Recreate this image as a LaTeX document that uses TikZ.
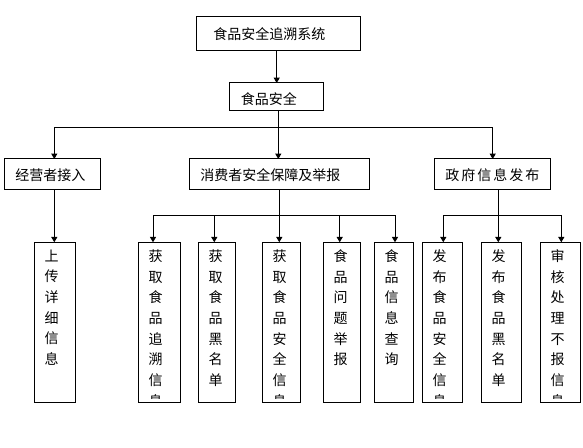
\documentclass[tikz,border=0pt]{standalone}
\usepackage{fontspec}
\newfontfamily\cjk{Noto Sans CJK SC}
\usetikzlibrary{arrows.meta,fit}
\newcommand\mkcol[4]{%
  \node[box,fit={(#2,242.3)(#3,403)}] (#1) {};
  \begin{scope}
    \clip (#2,242.3) rectangle (#3,398.5);
    \node[vlbl] (#1t) at (#2+17.3,249.5) {#4};
  \end{scope}}
\begin{document}
\begin{tikzpicture}[x=0.75pt,y=-0.75pt,
  box/.style={draw,line width=0.75pt,inner sep=0,outer sep=0},
  lbl/.style={font=\cjk\fontsize{10.5pt}{15.5pt}\selectfont,inner sep=0,anchor=west},
  vlbl/.style={font=\cjk\fontsize{10.5pt}{15.5pt}\selectfont,inner sep=0,anchor=north,align=center},
  ln/.style={line width=0.75pt},
  arr/.style={line width=0.75pt,-{Triangle[width=4.5pt,length=4pt]}}]
\useasboundingbox (0,0) rectangle (583,448);
% upper boxes
\node[box,fit={(196,17)(360.7,51)}] (sys) {};
\node[lbl] (syst) at (213,34) {食品安全追溯系统};
\node[box,fit={(229,83)(323.7,111)}] (fs) {};
\node[lbl] (fst) at (240.7,99) {食品安全};
\node[box,fit={(4.3,159)(100.7,190)}] (jy) {};
\node[lbl] (jyt) at (15,175) {经营者接入};
\node[box,fit={(189,159)(369,190)}] (xf) {};
\node[lbl] (xft) at (200,175) {消费者安全保障及举报};
\node[box,fit={(434,159)(550.7,190)}] (zf) {};
\node[lbl] (zft) at (445,175) {政\kern1.5pt 府\kern1.5pt 信\kern1.5pt 息\kern1.5pt 发\kern1.5pt 布};
% lower boxes
\mkcol{b1}{34.3}{75.7}{上\\传\\详\\细\\信\\息}
\mkcol{b2}{138.3}{180.3}{获\\取\\食\\品\\追\\溯\\信\\息}
\mkcol{b3}{198.3}{235.3}{获\\取\\食\\品\\黑\\名\\单}
\mkcol{b4}{262.3}{300.3}{获\\取\\食\\品\\安\\全\\信\\息}
\mkcol{b5}{323.3}{360.3}{食\\品\\问\\题\\举\\报}
\mkcol{b6}{374.3}{413.3}{食\\品\\信\\息\\查\\询}
\mkcol{b7}{422.3}{462.3}{发\\布\\食\\品\\安\\全\\信\\息}
\mkcol{b8}{481.3}{521.3}{发\\布\\食\\品\\黑\\名\\单}
\mkcol{b9}{540.3}{580.3}{审\\核\\处\\理\\不\\报\\信\\息}
% connectors
\draw[arr] (276.7,0 |- sys.south) -- (276.7,0 |- fs.north);
\coordinate (bus) at (278.3,128);
\coordinate (busL) at (54.3,128);
\coordinate (busR) at (492.7,128);
\draw[ln] (fs.south -| bus) -- (bus);
\draw[ln] (busL) -- (busR);
\draw[arr] (busL) -- (busL |- jy.north);
\draw[arr] (bus) -- (bus |- xf.north);
\draw[arr] (busR) -- (busR |- zf.north);
\draw[arr] (busL |- jy.south) -- (busL |- b1.north);
% consumer branch
\coordinate (m) at (279.3,215.3);
\coordinate (c2) at (153,215.3);
\coordinate (c3) at (214.3,215.3);
\coordinate (c5) at (339.7,215.3);
\coordinate (c6) at (395,215.3);
\draw[arr] (m |- xf.south) -- (m |- b4.north);
\draw[ln] (c2) -- (c6);
\draw[arr] (c2) -- (c2 |- b2.north);
\draw[arr] (c3) -- (c3 |- b3.north);
\draw[arr] (c5) -- (c5 |- b5.north);
\draw[arr] (c6) -- (c6 |- b6.north);
% government branch
\coordinate (g) at (498.3,215.3);
\coordinate (g7) at (443.3,215.3);
\coordinate (g9) at (561.3,215.3);
\draw[arr] (g |- zf.south) -- (g |- b8.north);
\draw[ln] (g7) -- (g9);
\draw[arr] (g7) -- (g7 |- b7.north);
\draw[arr] (g9) -- (g9 |- b9.north);
\end{tikzpicture}
\end{document}
